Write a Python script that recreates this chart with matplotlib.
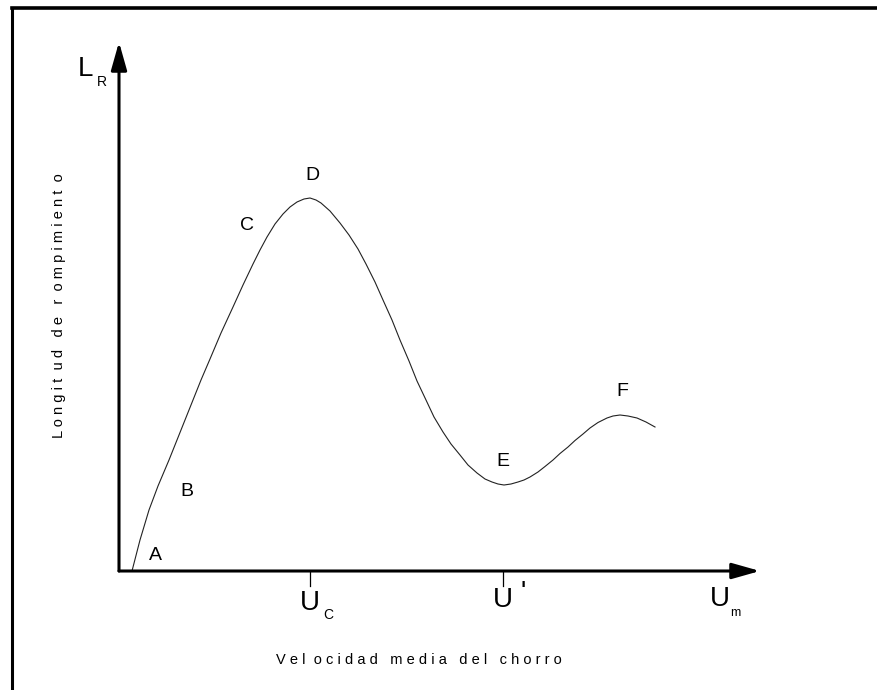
import matplotlib
matplotlib.use("Agg")
import matplotlib.pyplot as plt
from matplotlib.lines import Line2D

plt.rcParams['font.family'] = ['Liberation Sans', 'DejaVu Sans']

# curve (axis origin = 0,0)
u = [13, 21, 30, 39, 50, 58, 66, 74, 82, 91, 102, 114, 124, 134, 141, 148,
     156, 164, 171, 178, 185, 191, 197, 202, 211, 221, 230, 239, 247, 256,
     264, 273, 281, 290, 298, 307, 315, 324, 332, 341, 349, 358, 366, 373,
     379, 385, 392, 399, 405, 411, 419, 426, 434, 441, 449, 456, 464, 471,
     479, 488, 494, 501, 509, 518, 527, 536]
lr = [0, 31, 61, 85, 111, 131, 151, 171, 191, 212, 238, 264, 286, 307, 321, 334,
      347, 357, 364, 369, 372, 373, 371, 368, 360, 348, 336, 322, 307, 289,
      271, 251, 231, 210, 190, 171, 154, 139, 127, 116, 106, 98, 92, 89,
      87, 86, 87, 89, 91, 94, 99, 104.5, 111, 117.5, 124, 130.5, 137, 143,
      148.5, 153, 155, 156, 155, 153, 149, 144]

point_names = ['A', 'B', 'C', 'D', 'E', 'F']
point_u = [36, 68, 128, 193, 384, 503]
point_lr = [16, 79, 346, 395, 110, 179]

tick_u = [191, 384]   # U_c, U'

fig = plt.figure(figsize=(8.78, 6.90), dpi=100)
ax = fig.add_axes([119 / 878, 119 / 690, 641 / 878, 529 / 690])
ax.set_xlim(0, 641)
ax.set_ylim(0, 529)
ax.axis('off')

# frame of the figure (top and left only)
fig.add_artist(Line2D([12 / 878, 1], [1 - 8 / 690, 1 - 8 / 690], color='black', lw=2.6))
fig.add_artist(Line2D([12 / 878, 12 / 878], [0, 1 - 8 / 690], color='black', lw=2.2))

# axes with arrows
arrow = dict(arrowstyle='-|>,head_length=0.85,head_width=0.24', color='black',
             lw=2.2, mutation_scale=20, shrinkA=0, shrinkB=0)
ax.annotate('', xy=(641, 0), xytext=(0, 0), arrowprops=arrow, annotation_clip=False)
ax.annotate('', xy=(0, 529), xytext=(0, 0), arrowprops=arrow, annotation_clip=False)

ax.plot(u, lr, color='#222222', lw=0.8, clip_on=False, solid_joinstyle='round')

for name, x, y in zip(point_names, point_u, point_lr):
    ax.text(x, y, name, fontsize=14, ha='center', va='center')

for x in tick_u:
    ax.plot([x, x], [0, -15], color='black', lw=0.9, clip_on=False)

# axis symbols
ax.text(191, -32, 'U', fontsize=20, ha='center', va='center')
ax.text(209, -44, 'C', fontsize=10, ha='center', va='center')
ax.text(384, -29, 'U', fontsize=20, ha='center', va='center')
ax.text(404, -22, "'", fontsize=20, ha='center', va='center')
ax.text(601, -28, 'U', fontsize=20, ha='center', va='center')
ax.text(616, -42, 'm', fontsize=9, ha='center', va='center')
ax.text(-34, 502, 'L', fontsize=20, ha='center', va='center')
ax.text(-17, 489, 'R', fontsize=10, ha='center', va='center')

ax.text(300, -89, 'V e l  o c i d a d   m e d i a   d e l   c h o r r o',
        fontsize=10.5, ha='center', va='center')
ax.text(-60, 265, 'L o n g i t  u d   d e   r  o m p i m i e n t  o',
        fontsize=10.5, ha='center', va='center', rotation=90)

fig.savefig('out.png', dpi=100)
